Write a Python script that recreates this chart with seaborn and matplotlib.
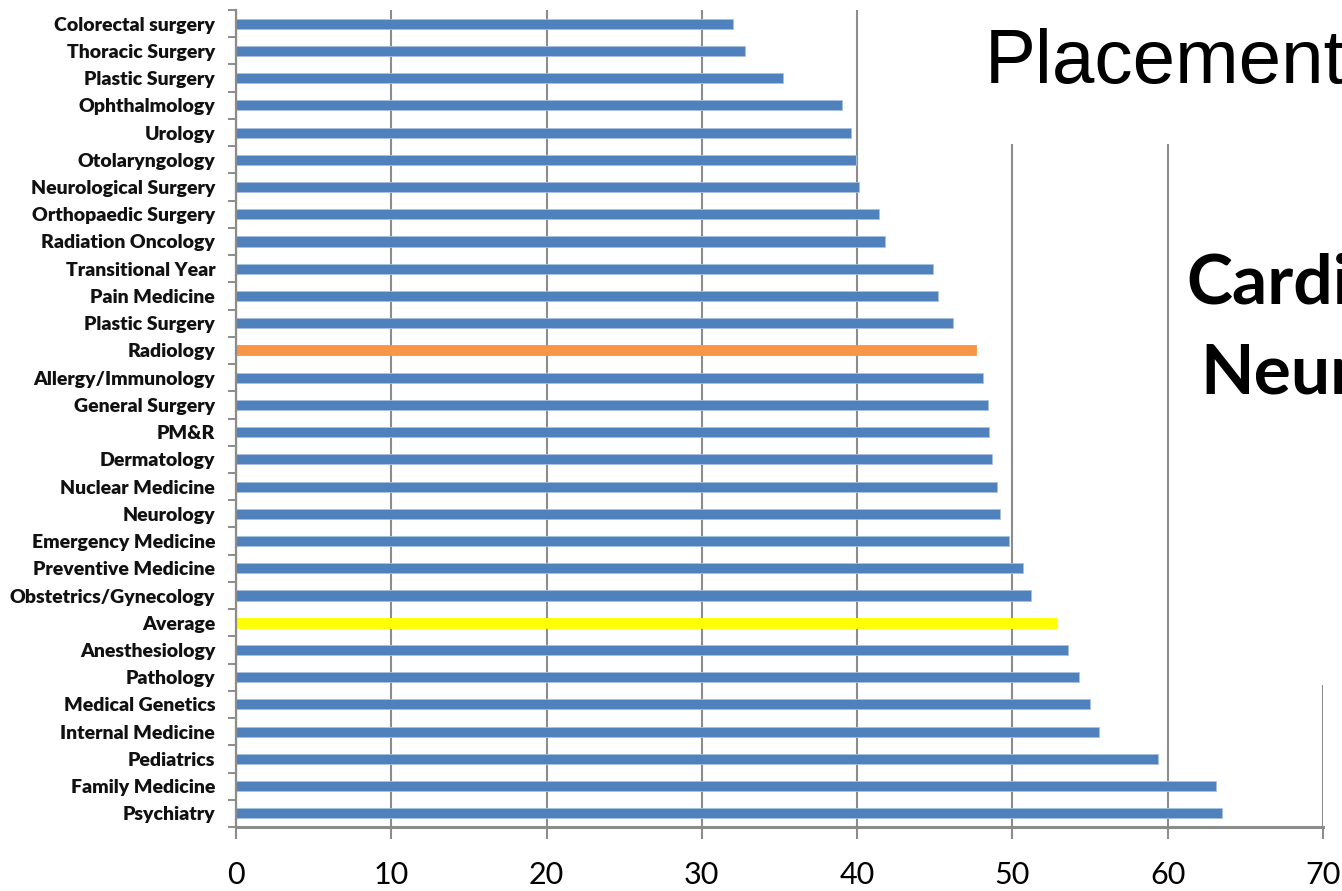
import numpy as np
import pandas as pd
import matplotlib
matplotlib.use("Agg")
import matplotlib.pyplot as plt
from matplotlib.patches import Rectangle
import seaborn as sns

specialties = [
    "Colorectal surgery", "Thoracic Surgery", "Plastic Surgery", "Ophthalmology",
    "Urology", "Otolaryngology", "Neurological Surgery", "Orthopaedic Surgery",
    "Radiation Oncology", "Transitional Year", "Pain Medicine", "Plastic Surgery",
    "Radiology", "Allergy/Immunology", "General Surgery", "PM&R", "Dermatology",
    "Nuclear Medicine", "Neurology", "Emergency Medicine", "Preventive Medicine",
    "Obstetrics/Gynecology", "Average", "Anesthesiology", "Pathology",
    "Medical Genetics", "Internal Medicine", "Pediatrics", "Family Medicine",
    "Psychiatry",
]
values = [
    32.0, 32.8, 35.2, 39.0, 39.6, 39.9, 40.1, 41.4, 41.8, 44.9, 45.2, 46.2,
    47.65, 48.1, 48.4, 48.5, 48.7, 49.0, 49.2, 49.8, 50.7, 51.2, 52.9, 53.6,
    54.3, 55.0, 55.6, 59.4, 63.1, 63.5,
]
groups = ["other"] * len(specialties)
groups[12] = "highlight"
groups[22] = "average"
x_ticks = [0, 10, 20, 30, 40, 50, 60, 70]

palette = {"other": "#4F81BD", "highlight": "#F79646", "average": "#FFFF00"}

df = pd.DataFrame({
    "row": [str(i) for i in range(len(specialties))],
    "value": values,
    "group": groups,
})

sns.set_theme(style="white")
plt.rcParams["font.family"] = ["Lato", "DejaVu Sans"]

W, H = 1342, 891
fig = plt.figure(figsize=(W / 100, H / 100), dpi=100)
ax = fig.add_axes([236 / W, 1 - 827 / H, (1323 - 236) / W, (827 - 10) / H])

sns.barplot(data=df, x="value", y="row", hue="group", palette=palette,
            dodge=False, legend=False, width=0.37, ax=ax, orient="h",
            edgecolor="#A9C1E0", linewidth=0.6, saturation=1)
for p in ax.patches:
    fc = p.get_facecolor()
    if fc[0] > 0.9:
        p.set_edgecolor(p.get_facecolor())

ax.set_xlim(0, 70)
ax.set_ylim(len(specialties) - 0.5, -0.5)
ax.set_xticks(x_ticks)
ax.set_xticklabels([str(t) for t in x_ticks], fontsize=22, family=["Lato", "DejaVu Sans"],
                   color="black")
ax.set_yticks(range(len(specialties)))
ax.set_yticklabels(specialties, fontsize=14, fontweight="heavy", color="#111111")
ax.set_yticks(np.arange(-0.5, len(specialties), 1), minor=True)
ax.set_xlabel("")
ax.set_ylabel("")

grid_c = "#8C8C8C"
ax.xaxis.grid(True, color=grid_c, linewidth=1.5)
ax.yaxis.grid(False)
ax.set_axisbelow(True)

for s in ["top", "right"]:
    ax.spines[s].set_visible(False)
ax.spines["left"].set_color(grid_c)
ax.spines["left"].set_linewidth(1.6)
ax.spines["bottom"].set_color(grid_c)
ax.spines["bottom"].set_linewidth(2.2)

ax.tick_params(axis="y", which="major", length=0, pad=15)
ax.tick_params(axis="y", which="minor", length=6, width=1.4, color=grid_c,
               direction="out", left=True)
ax.tick_params(axis="x", which="major", length=8.5, width=1.5, color=grid_c,
               direction="out", bottom=True, pad=16)

# white overlay boxes from the slide
fig.add_artist(Rectangle((900 / W, 1 - 144 / H), (W - 900) / W, 144 / H,
                         transform=fig.transFigure, facecolor="white",
                         edgecolor="none", zorder=5))
fig.add_artist(Rectangle((1176 / W, 1 - 685 / H), (W - 1176) / W, 685 / H,
                         transform=fig.transFigure, facecolor="white",
                         edgecolor="none", zorder=5))

fig.text(985 / W, 1 - 83 / H, "Placement", fontsize=55, family=["Liberation Sans", "DejaVu Sans"],
         color="black", ha="left", va="baseline", zorder=6)
fig.text(1186 / W, 1 - 304 / H, "Cardi", fontsize=50, fontweight="bold",
         color="black", ha="left", va="baseline", zorder=6)
fig.text(1200 / W, 1 - 393 / H, "Neur", fontsize=50, fontweight="bold",
         color="black", ha="left", va="baseline", zorder=6)

fig.savefig("out.png", dpi=100, facecolor="white")
